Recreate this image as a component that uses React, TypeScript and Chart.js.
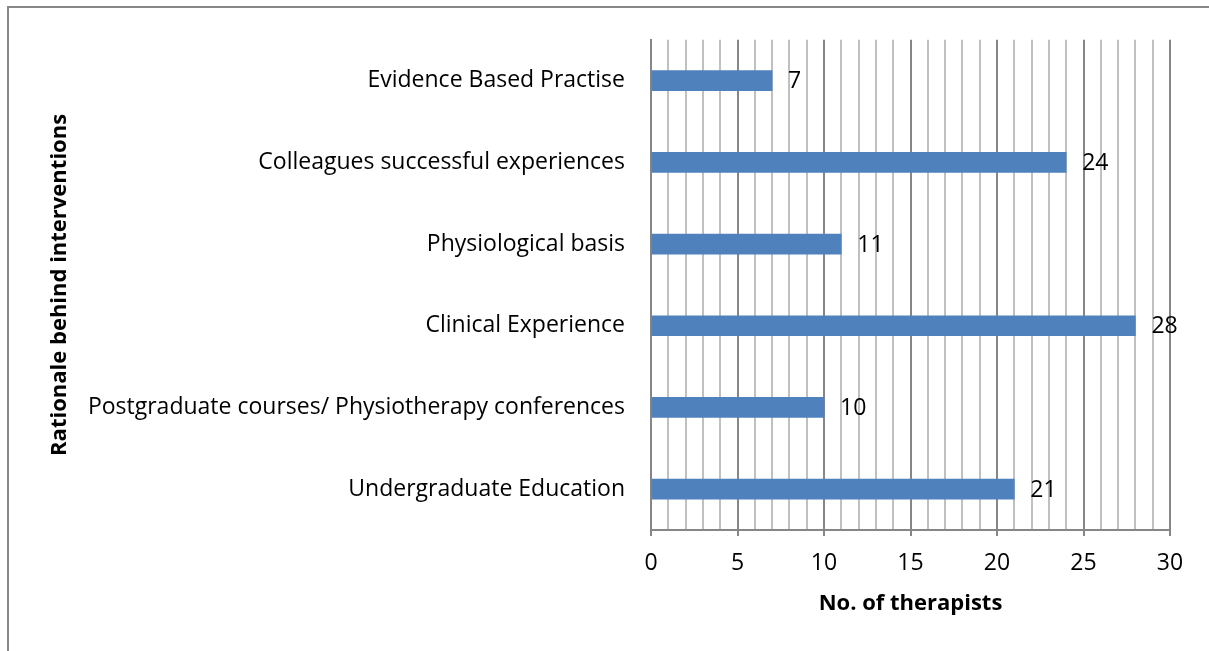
import React, { useEffect, useRef } from "react";
import { Chart, registerables } from "chart.js";

Chart.register(...registerables);

const categories = [
  "Evidence Based Practise",
  "Colleagues successful experiences",
  "Physiological basis",
  "Clinical Experience",
  "Postgraduate courses/ Physiotherapy conferences",
  "Undergraduate Education",
];
const therapists = [7, 24, 11, 28, 10, 21];
const xMin = 0;
const xMax = 30;
const xTitle = "No. of therapists";
const yTitle = "Rationale behind interventions";

const FONT = "'Open Sans'";
const FS = 23;
const TFS = 22;
const MAJOR = "#868686";
const MINOR = "#c0c0c0";

const valueLabels = {
  id: "valueLabels",
  afterDatasetsDraw(chart: any) {
    const ctx = chart.ctx;
    const meta = chart.getDatasetMeta(0);
    ctx.save();
    ctx.font = `${FS}px ${FONT}`;
    ctx.fillStyle = "#000";
    ctx.textAlign = "left";
    ctx.textBaseline = "middle";
    meta.data.forEach((bar: any, i: number) => {
      ctx.fillText(String(therapists[i]), bar.x + 16, bar.y + 1);
    });
    ctx.restore();
  },
};

export default function App() {
  const ref = useRef<HTMLCanvasElement>(null);
  useEffect(() => {
    const chart = new Chart(ref.current!, {
      type: "bar",
      data: {
        labels: categories,
        datasets: [
          {
            data: therapists,
            backgroundColor: "#4F81BD",
            borderWidth: 0,
            barThickness: 20,
          },
        ],
      },
      options: {
        indexAxis: "y",
        animation: false,
        responsive: false,
        maintainAspectRatio: false,
        layout: { padding: { left: 43, top: 37, right: 39, bottom: 30 } },
        plugins: { legend: { display: false }, tooltip: { enabled: false } },
        scales: {
          x: {
            min: xMin,
            max: xMax,
            ticks: {
              stepSize: 1,
              autoSkip: false,
              maxRotation: 0,
              padding: 14,
              color: "#000",
              font: { family: FONT, size: FS },
              callback: (v: any) => (Number(v) % 5 === 0 ? String(v) : ""),
            },
            grid: {
              color: (c: any) => (c.tick && c.tick.value % 5 === 0 ? MAJOR : MINOR),
              lineWidth: 2,
              tickLength: 6,
              tickColor: (c: any) => (c.tick && c.tick.value % 5 === 0 ? MAJOR : "rgba(0,0,0,0)"),
            },
            border: { display: true, color: MAJOR, width: 2 },
            title: {
              display: true,
              text: xTitle,
              color: "#000",
              font: { family: FONT, size: TFS, weight: "bold" },
            },
            afterFit: (s: any) => {
              s.height = 91;
            },
          },
          y: {
            ticks: {
              color: "#000",
              padding: 26,
              font: { family: FONT, size: FS },
            },
            grid: { display: false, drawTicks: false },
            border: { display: true, color: MAJOR, width: 2 },
            title: {
              display: true,
              text: yTitle,
              color: "#000",
              font: { family: FONT, size: TFS, weight: "bold" },
            },
            afterFit: (s: any) => {
              s.width = 608;
            },
          },
        },
      },
      plugins: [valueLabels],
    });
    return () => chart.destroy();
  }, []);

  return (
    <div
      style={{
        position: "fixed",
        left: 0,
        top: 0,
        width: 1209,
        height: 651,
        overflow: "hidden",
        background: "#fff",
      }}
    >
      <div
        style={{
          position: "absolute",
          left: 7,
          top: 6,
          width: 1300,
          height: 800,
          border: "2px solid #878787",
          boxSizing: "border-box",
        }}
      />
      <canvas
        ref={ref}
        width={1209}
        height={651}
        style={{ position: "absolute", left: 0, top: 0 }}
      />
    </div>
  );
}
